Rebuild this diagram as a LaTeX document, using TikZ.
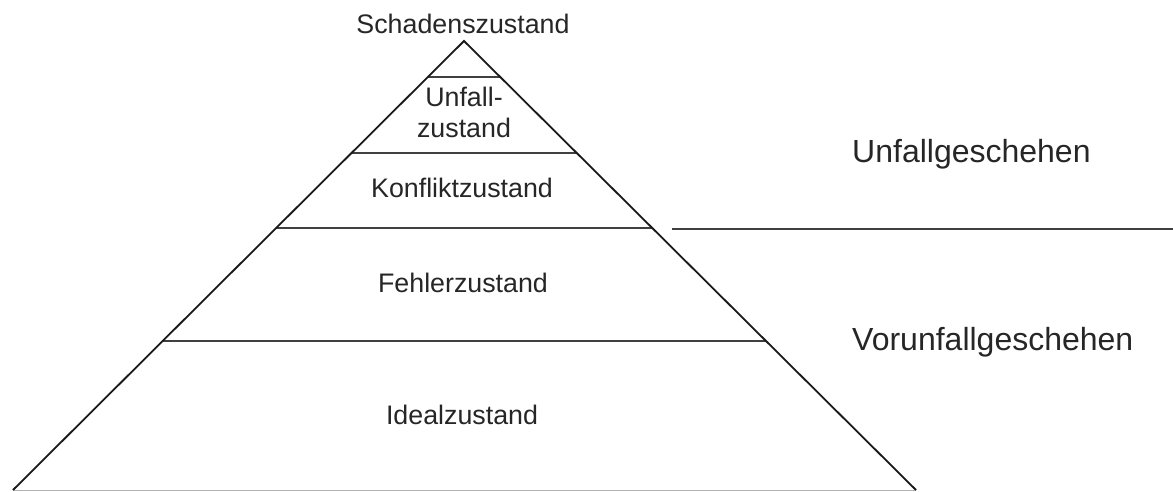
\documentclass[tikz,border=0pt]{standalone}
\usepackage{fontspec}
\setmainfont{Liberation Sans}
\usetikzlibrary{calc}
\begin{document}
\begin{tikzpicture}[x=1pt, y=-1pt,
		stufe/.style={font=\fontsize{26.8}{31}\selectfont, text=black!85, inner sep=0pt},
		phase/.style={font=\fontsize{32}{38}\selectfont, text=black!85, inner sep=0pt, anchor=base west},
		kante/.style={black!90, line width=1.8pt},
		ebene/.style={black!75, line width=1.2pt}]
	\useasboundingbox (0,0) rectangle (1173,491);
	\coordinate (spitze) at (464,41);
	\coordinate (links) at (13,490);
	\coordinate (rechts) at (916,490);
	% Ebenen der Pyramide
	\foreach \t/\n in {0.0802/a, 0.2494/b, 0.4165/c, 0.6682/d}{
		\coordinate (l\n) at ($(spitze)!\t!(links)$);
		\coordinate (r\n) at ($(spitze)!\t!(rechts)$);
		\draw[ebene] (l\n) -- (r\n);
	}
	\draw[gray!60, line width=1pt] (links) -- (rechts);
	\draw[kante] (links) -- (spitze) -- (rechts);
	% Trennlinie der Phasen
	\coordinate (trennA) at (672,229);
	\coordinate (trennB) at (1173,229);
	\draw[ebene] (trennA) -- (trennB);
	\node[stufe, anchor=base] (schaden) at (463,33) {Schadenszustand};
	\node[stufe, align=center] (unfall) at (464,112) {Unfall-\\zustand};
	\node[stufe, anchor=base] (konflikt) at (462,197) {Konfliktzustand};
	\node[stufe, anchor=base] (fehler) at (463,292) {Fehlerzustand};
	\node[stufe, anchor=base] (ideal) at (462,424) {Idealzustand};
	\node[phase] (ugeschehen) at (852,162) {Unfallgeschehen};
	\node[phase] (vgeschehen) at (852,350) {Vorunfallgeschehen};
\end{tikzpicture}
\end{document}
